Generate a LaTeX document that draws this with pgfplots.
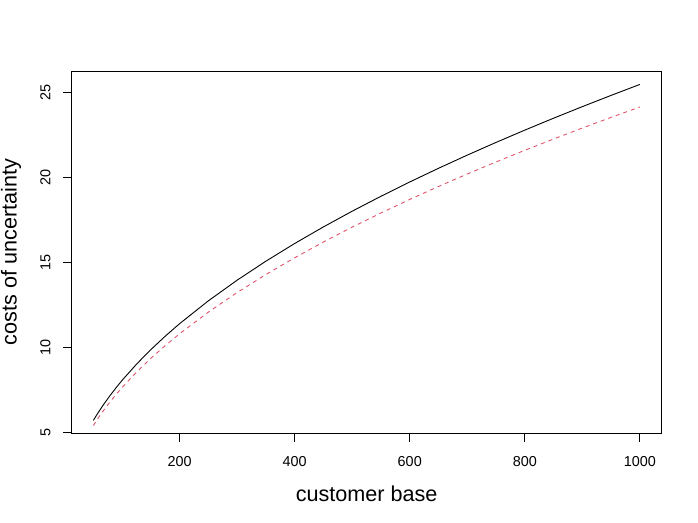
\documentclass[border=0pt]{standalone}
\usepackage{fontspec}
\setmainfont{Liberation Sans}
\usepackage{pgfplots}
\pgfplotsset{compat=1.18}
\definecolor{rred}{HTML}{DF536B}
\begin{document}
\begin{tikzpicture}[x=1bp,y=1bp]
\path[use as bounding box] (0,0) rectangle (698,523);
\begin{axis}[
  at={(71.5bp,89.7bp)}, anchor=south west,
  scale only axis, width=590.2bp, height=362.3bp,
  xmin=12, xmax=1038, ymin=4.94, ymax=26.28,
  axis line style={line width=0.75bp},
  xtick={200,400,600,800,1000}, ytick={5,10,15,20,25},
  tick align=outside, tick pos=left,
  major tick length=8.6bp,
  tick style={black, line width=0.75bp},
  /pgf/number format/assume math mode=true,
  /pgf/number format/1000 sep={},
  ticklabel style={font=\fontsize{14.4bp}{17bp}\selectfont, inner sep=0pt},
  xticklabel style={anchor=north},
  yticklabel style={rotate=90, anchor=south},
  xticklabel shift=14bp,
  yticklabel shift=12.2bp,
  xlabel={customer base},
  ylabel={costs of uncertainty},
  label style={font=\fontsize{21.6bp}{26bp}\selectfont, inner sep=0pt},
  xlabel style={at={([yshift=-60.5bp]axis description cs:0.5,0)}, anchor=center},
  ylabel style={at={([xshift=-60.4bp]axis description cs:0,0.5)}, anchor=center},
  clip=true,
]
\addplot[black, line width=0.9bp] coordinates {
(50,5.699) (55,5.977) (60,6.243) (65,6.498) (70,6.743) (80,7.209) (90,7.646) (100,8.060)
(125,9.011) (150,9.871) (175,10.662) (200,11.399) (250,12.744) (300,13.960)
(350,15.079) (400,16.120) (450,17.098) (500,18.023) (550,18.902) (600,19.743)
(650,20.549) (700,21.325) (750,22.073) (800,22.797) (850,23.499) (900,24.180)
(950,24.843) (1000,25.488)
};
\addplot[rred, line width=0.9bp, dash pattern=on 4bp off 4bp] coordinates {
(50,5.402) (55,5.666) (60,5.918) (65,6.160) (70,6.392) (80,6.833) (90,7.248) (100,7.640)
(125,8.542) (150,9.357) (175,10.107) (200,10.805) (250,12.080) (300,13.233)
(350,14.293) (400,15.280) (450,16.207) (500,17.084) (550,17.917) (600,18.714)
(650,19.478) (700,20.213) (750,20.923) (800,21.609) (850,22.274) (900,22.920)
(950,23.548) (1000,24.160)
};
\end{axis}
\end{tikzpicture}
\end{document}
